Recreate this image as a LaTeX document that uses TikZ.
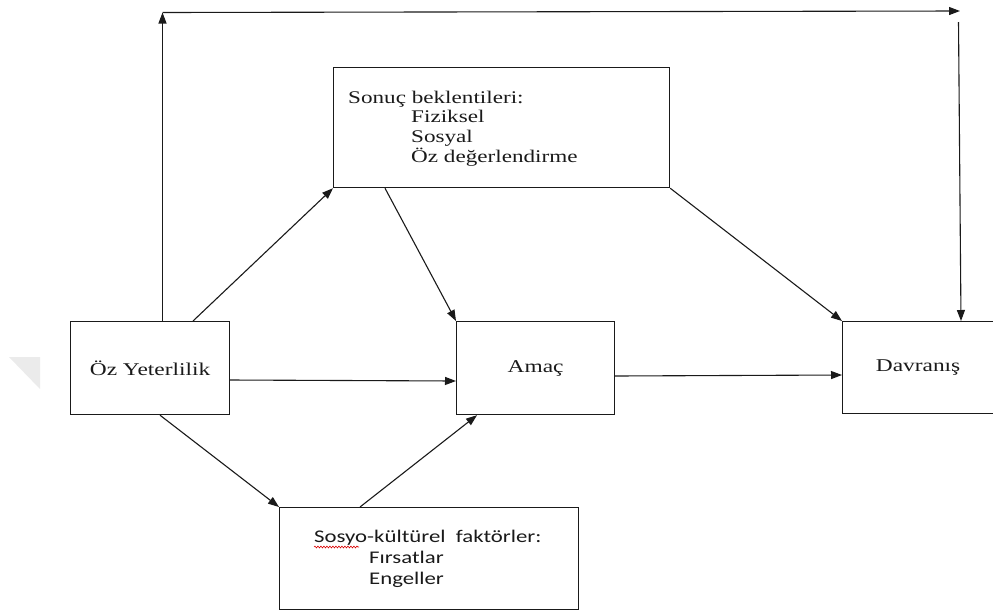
\documentclass[tikz,border=0pt]{standalone}
\usepackage{fontspec}
\usetikzlibrary{arrows.meta,decorations.pathmorphing}
\newfontfamily\swide[FakeStretch=1.3]{Liberation Serif}
\newfontfamily\cwide[FakeStretch=1.28]{Carlito}
\definecolor{ink}{HTML}{1A1A1A}
\definecolor{wm}{HTML}{EBEBEB}
\tikzset{
  box/.style={draw=ink, line width=1.2pt, inner sep=0pt, anchor=north west, text=ink,
    font={\swide\fontsize{18}{20}\selectfont}},
  lbl/.style={anchor=base west, inner sep=0pt, align=left, text=ink},
  serif/.style={font={\swide\fontsize{17.8}{19.8}\selectfont}},
  sans/.style={font={\cwide\fontsize{17.8}{21}\selectfont}},
  conn/.style={draw=ink, line width=1.1pt, -{Triangle[length=11pt,width=8pt]}},
}
\begin{document}
\begin{tikzpicture}[x=1pt,y=1pt]
\useasboundingbox (0,0) rectangle (993,-614);
% faint watermark fragment
\fill[wm] (9,-357) -- (40,-357) -- (40,-389) -- cycle;

% boxes
\node[box, minimum width=159pt, minimum height=93pt] (oz) at (70,-321) {Öz Yeterlilik};
\node[box, minimum width=336pt, minimum height=120pt] (son) at (333,-67) {};
\node[box, minimum width=158pt, minimum height=93pt] (amac) at (456,-321) {Amaç};
\node[box, minimum width=153pt, minimum height=92pt] (dav) at (842,-321) {\hspace*{-2pt}Davranış};
\node[box, minimum width=299pt, minimum height=102pt] (sos) at (279,-507) {};

% box texts (base = last line)
\node[lbl, serif] (sontxt) at (348,-162.4)
  {Sonuç beklentileri:\\\hspace*{63pt}Fiziksel\\\hspace*{63pt}Sosyal\\\hspace*{63pt}Öz değerlendirme};
\node[lbl, sans] (sostxt) at (314,-584)
  {Sosyo-kültürel\ \ faktörler:\\\hspace*{55pt}Fırsatlar\\\hspace*{55pt}Engeller};
% spell-check underline
\draw[red!85!black, line width=0.6pt, decorate,
  decoration={snake, amplitude=0.9pt, segment length=3pt}]
  ([yshift=37pt]sostxt.base west) -- ++(45,0);

% top loop
\coordinate (tl) at (162.5,-12.5);
\coordinate (tr) at (960,-11);
\coordinate (tr2) at (958.5,-22);
\draw[conn] ([xshift=92.5pt]oz.north west) -- (tl);
\draw[conn] (tl) -- (tr);
\draw[conn] (tr2) -- ([xshift=119pt]dav.north west);

% connectors
\draw[conn] ([xshift=123pt]oz.north west) -- (son.south west);
\draw[conn] ([yshift=-59pt]oz.north east) -- ([yshift=-60pt]amac.north west);
\draw[conn] ([xshift=90pt]oz.south west) -- (sos.north west);
\draw[conn] ([xshift=81pt]sos.north west) -- ([xshift=21pt]amac.south west);
\draw[conn] ([xshift=52pt]son.south west) -- (amac.north west);
\draw[conn] (son.south east) -- (dav.north west);
\draw[conn] ([yshift=-55pt]amac.north east) -- ([yshift=-54pt]dav.north west);
\end{tikzpicture}
\end{document}
